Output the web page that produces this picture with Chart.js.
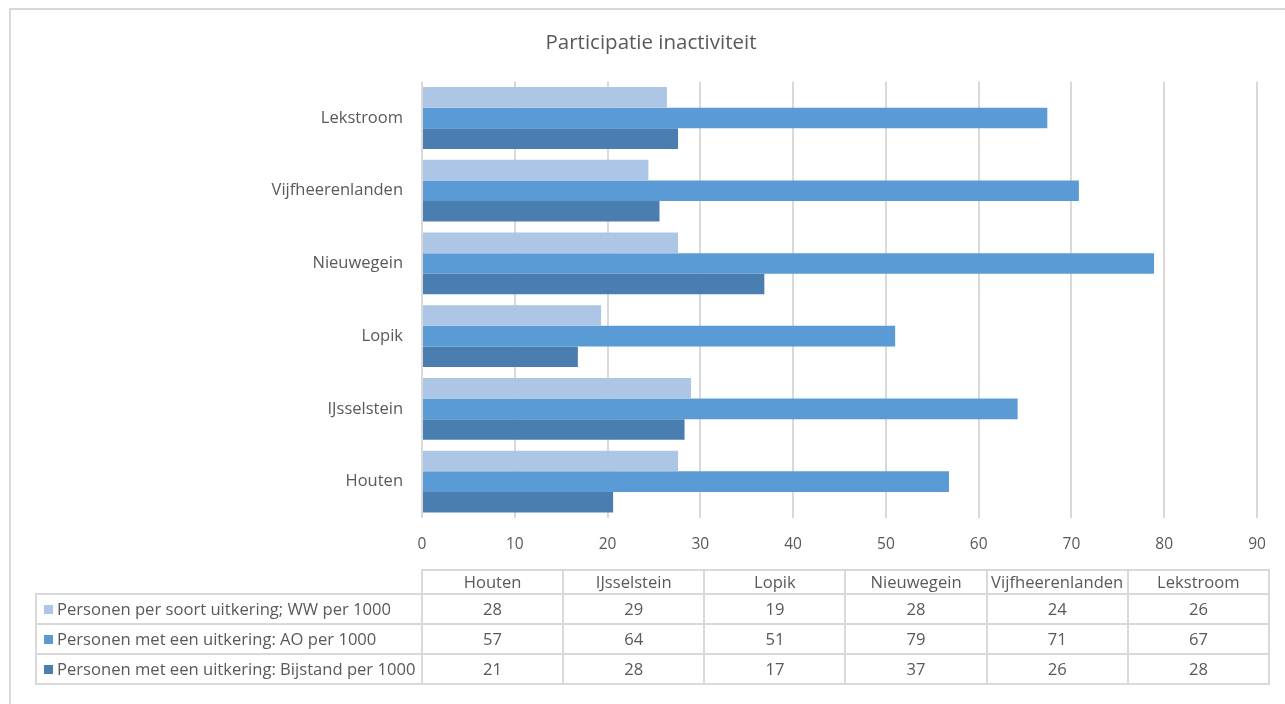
<!DOCTYPE html>
<html>
<head>
<meta charset="utf-8">
<script src="https://cdn.jsdelivr.net/npm/chart.js@4.4.1/dist/chart.umd.min.js"></script>
<style>
  body { margin: 0; background: #fff; }
  #wrap { position: absolute; left: 0; top: 0; width: 1285px; height: 704px; }
  #frame { position: absolute; left: 9px; top: 8px; width: 1290px; height: 710px;
           border-left: 2px solid #d9d9d9; border-top: 2px solid #d9d9d9; }
  #tbl { position: absolute; left: 35px; top: 569px; border-collapse: collapse; table-layout: fixed;
         width: 1235px; font-family: "Open Sans", sans-serif; font-size: 16.6px; color: #595959; }
  #tbl td { border: 2px solid #d9d9d9; padding: 0; text-align: center; height: 28px; line-height: 22px; white-space: nowrap; overflow: hidden; }
  #tbl td.lab { text-align: left; padding-left: 7px; }
  #tbl tr.head td { height: 21px; }
  #tbl td.blank { border: none; border-right: 2px solid #d9d9d9; }
  .sw { display: inline-block; width: 9px; height: 9px; margin-right: 4px; vertical-align: 1px; }
</style>
</head>
<body>
<div id="wrap">
  <div id="frame"></div>
  <canvas id="myChart" width="1285" height="704"></canvas>
  <table id="tbl"></table>
</div>
<script>
var categories = ['Houten', 'IJsselstein', 'Lopik', 'Nieuwegein', 'Vijfheerenlanden', 'Lekstroom'];
var seriesNames = [
  'Personen per soort uitkering; WW per 1000',
  'Personen met een uitkering: AO per 1000',
  'Personen met een uitkering: Bijstand per 1000'
];
var ww = [27.6, 29.0, 19.3, 27.6, 24.4, 26.4];
var ao = [56.8, 64.2, 51.0, 78.9, 70.8, 67.4];
var bijstand = [20.6, 28.3, 16.8, 36.9, 25.6, 27.6];
var xTicks = [0, 10, 20, 30, 40, 50, 60, 70, 80, 90];
var colors = ['#adc6e6', '#5b9bd5', '#4a7eb0'];

var allSeries = [ww, ao, bijstand];
var fontFam = '"Open Sans", sans-serif';
var gray = '#595959';

var ctx = document.getElementById('myChart').getContext('2d');
var myChart = new Chart(ctx, {
  type: 'bar',
  data: {
    labels: categories,
    datasets: allSeries.map(function(d, i) {
      return {
        label: seriesNames[i],
        data: d,
        backgroundColor: colors[i],
        borderWidth: 0,
        barPercentage: 1,
        categoryPercentage: 0.85
      };
    })
  },
  options: {
    indexAxis: 'y',
    responsive: false,
    animation: false,
    layout: { padding: { left: 45, right: 28, top: 31, bottom: 146 } },
    plugins: {
      legend: { display: false },
      tooltip: { enabled: false },
      title: {
        display: true,
        text: 'Participatie inactiviteit',
        color: gray,
        font: { family: fontFam, size: 20.5, weight: 'normal' },
        padding: { top: 0, bottom: 26 }
      }
    },
    scales: {
      x: {
        min: 0, max: 90,
        afterBuildTicks: function(scale) {
          scale.ticks = xTicks.map(function(v) { return { value: v }; });
        },
        afterFit: function(scale) { scale.height = 40; },
        grid: { color: '#d9d9d9', lineWidth: 2, drawTicks: false },
        border: { display: false },
        ticks: { color: gray, padding: 17, font: { family: fontFam, size: 15.5 } }
      },
      y: {
        reverse: true,
        afterFit: function(scale) { scale.width = 377; },
        grid: { display: false },
        border: { display: false },
        ticks: { color: gray, padding: 11, font: { family: fontFam, size: 16.5 } }
      }
    }
  }
});

// data table under the chart
var tbl = document.getElementById('tbl');
var html = '<colgroup><col style="width:386px">';
categories.forEach(function() { html += '<col>'; });
html += '</colgroup><tr class="head"><td class="blank"></td>';
categories.forEach(function(c) { html += '<td>' + c + '</td>'; });
html += '</tr>';
allSeries.forEach(function(d, i) {
  html += '<tr><td class="lab"><span class="sw" style="background:' + colors[i] + '"></span>' + seriesNames[i] + '</td>';
  d.forEach(function(v) { html += '<td>' + Math.round(v) + '</td>'; });
  html += '</tr>';
});
tbl.innerHTML = html;
</script>
</body>
</html>
